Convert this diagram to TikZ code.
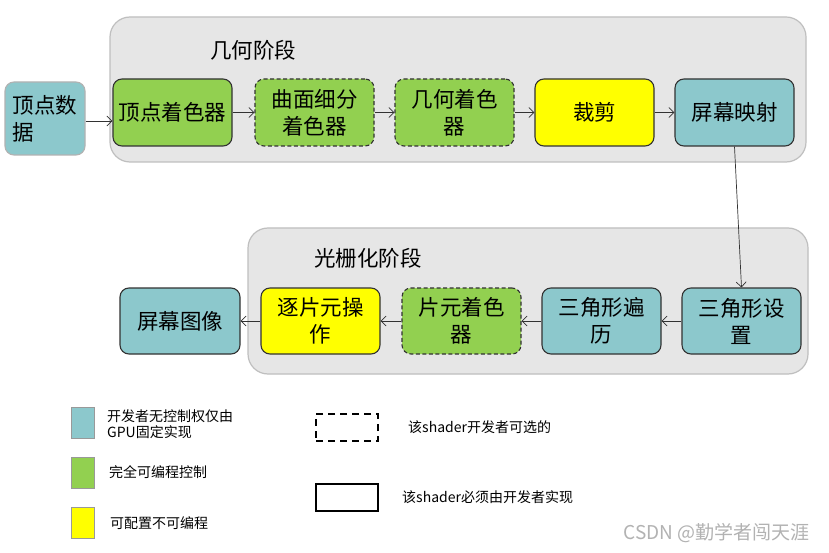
\documentclass[tikz,border=0pt]{standalone}
\usepackage{fontspec}
\setmainfont{Noto Sans CJK SC}
\usetikzlibrary{arrows.meta}
\definecolor{tealc}{RGB}{140,200,204}
\definecolor{greenc}{RGB}{146,208,80}
\definecolor{yellowc}{RGB}{255,255,0}
\definecolor{groupfill}{RGB}{230,230,230}
\definecolor{groupdraw}{RGB}{191,191,191}
\definecolor{edgec}{RGB}{50,50,50}
\begin{document}
\begin{tikzpicture}[x=1pt,y=-1pt,
  group/.style={draw=groupdraw,fill=groupfill,line width=1.2pt,rounded corners=20pt},
  stage/.style={draw=edgec,line width=1.1pt,rounded corners=9pt,minimum width=119pt,minimum height=67pt,inner sep=0pt,align=center,font=\fontsize{21.5}{27}\selectfont},
  fixedbox/.style={stage,fill=tealc},
  progbox/.style={stage,fill=greenc},
  confbox/.style={stage,fill=yellowc},
  optional/.style={dashed,dash pattern=on 4pt off 2.5pt},
  grouptitle/.style={font=\fontsize{21.5}{24}\selectfont,inner sep=0pt},
  flow/.style={draw=edgec,line width=0.7pt,-{Straight Barb[length=5pt,width=10pt]}},
  legsq/.style={draw=gray!80,line width=1pt,minimum width=23pt,minimum height=31pt,inner sep=0pt},
  legtext/.style={font=\fontsize{14}{16}\selectfont,anchor=west,inner sep=0pt,align=left},
  legrect/.style={draw=black,line width=2pt,minimum width=62pt,minimum height=27pt,inner sep=0pt}
]
\useasboundingbox (0,0) rectangle (829,553);
\fill[white] (0,0) rectangle (829,553);

% groups
\node[group,minimum width=696pt,minimum height=145pt] (g1) at (458,89.5) {};
\node[grouptitle] (t1) at (253,50) {几何阶段};
\node[group,minimum width=560pt,minimum height=146pt] (g2) at (528,301) {};
\node[grouptitle] (t2) at (368,258) {光栅化阶段};

% top row
\node[fixedbox,draw=gray!60,minimum width=80pt,minimum height=73pt,align=left] (vd) at (45,118.5) {顶点数\\据};
\node[progbox] (vs) at (172.5,112.5) {顶点着色器};
\node[progbox,optional] (ts) at (314.5,112.5) {曲面细分\\着色器};
\node[progbox,optional] (gs) at (454.5,112.5) {几何着色\\器};
\node[confbox] (cl) at (594.5,112.5) {裁剪};
\node[fixedbox] (sm) at (734.5,112.5) {屏幕映射};

% bottom row
\node[fixedbox,minimum width=120pt,minimum height=66pt] (si) at (180,321) {屏幕图像};
\node[confbox,minimum height=66pt] (po) at (320.5,321) {逐片元操\\作};
\node[progbox,optional,minimum height=66pt] (fs) at (461.5,321) {片元着色\\器};
\node[fixedbox,minimum height=66pt] (tt) at (601.5,321) {三角形遍\\历};
\node[fixedbox,minimum height=66pt] (tset) at (741.5,321) {三角形设\\置};

% connectors
\draw[flow] (vd.east |- 0,121) -- (vs.west |- 0,121);
\draw[flow] (vs) -- (ts);
\draw[flow] (ts) -- (gs);
\draw[flow] (gs) -- (cl);
\draw[flow] (cl) -- (sm);
\draw[flow] (sm.south) -- (tset.north);
\draw[flow] (tset) -- (tt);
\draw[flow] (tt) -- (fs);
\draw[flow] (fs) -- (po);
\draw[flow] (po) -- (si);

% legend
\node[legsq,fill=tealc] (l1) at (82.5,422.5) {};
\node[legtext] (l1t) at (107,424) {开发者无控制权仅由\\GPU固定实现};
\node[legsq,fill=greenc] (l2) at (82.5,472.5) {};
\node[legtext] (l2t) at (109,472) {完全可编程控制};
\node[legsq,fill=yellowc] (l3) at (82.5,522.5) {};
\node[legtext] (l3t) at (110,523) {可配置不可编程};

\node[legrect,dashed,dash pattern=on 7pt off 5pt] (l4) at (347,427.5) {};
\node[legtext] (l4t) at (408,427) {该shader开发者可选的};
\node[legrect] (l5) at (347,497) {};
\node[legtext] (l5t) at (402,497) {该shader必须由开发者实现};

% watermark
\node[font=\fontsize{19}{21}\selectfont,text=gray!60,anchor=east,inner sep=0pt] (wm) at (810,533) {CSDN @勤学者闯天涯};
\end{tikzpicture}
\end{document}
